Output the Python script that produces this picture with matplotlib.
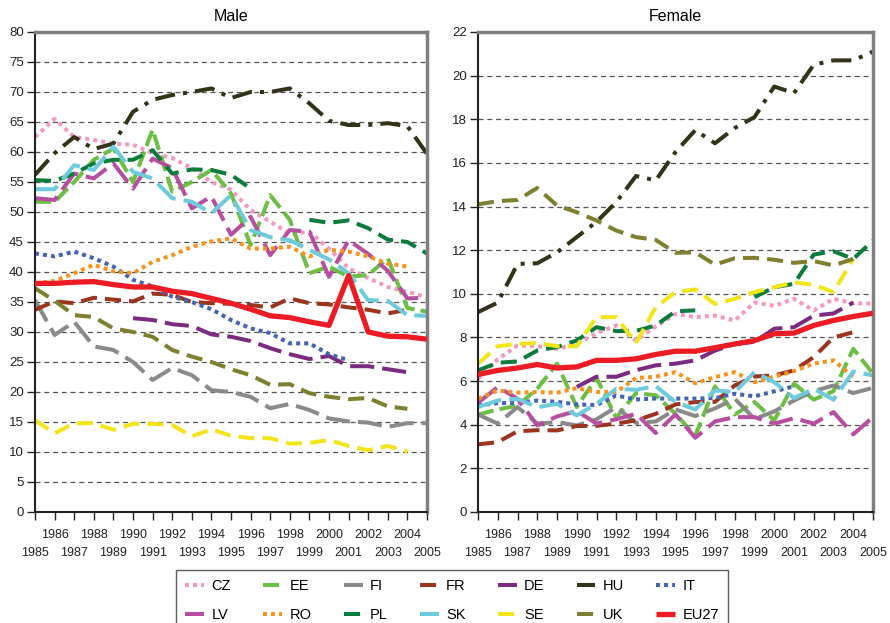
#Import Libraries
import matplotlib
matplotlib.use("Agg")
import matplotlib.pyplot as plt
import numpy as np

nan = np.nan

#Years on the x axis
years = list(range(1985, 2006))
countries = ["CZ", "EE", "FI", "FR", "DE", "HU", "IT", "LV", "RO", "PL", "SK", "SE", "UK", "EU27"]

#Male values
CZ_m = [62.5, 65.5, 62.5, 62.0, 61.4, 61.2, 59.8, 59.0, 57.3, 55.0, 53.7, 50.3, 48.4, 46.4, 46.7, 43.9, 40.6, 39.0, 37.5, 36.7, 35.8]
EE_m = [51.7, 51.7, 55.0, 58.7, 60.6, 55.0, 63.7, 53.4, 55.0, 57.0, 53.1, 44.5, 52.8, 48.7, 39.8, 40.9, 39.2, 39.5, 42.3, 34.0, 33.4]
FI_m = [35.3, 29.5, 31.7, 27.6, 27.0, 25.0, 22.0, 24.0, 22.8, 20.3, 20.0, 19.2, 17.3, 18.0, 17.0, 15.6, 15.1, 14.9, 14.2, 14.8, 14.8]
FR_m = [33.7, 35.1, 34.8, 35.7, 35.4, 35.1, 36.4, 36.2, 35.0, 34.8, 34.7, 34.5, 34.1, 35.6, 34.8, 34.6, 34.1, 33.7, 33.1, 33.7, nan]
DE_m = [nan, nan, nan, nan, nan, 32.3, 32.0, 31.3, 31.0, 29.6, 29.2, 28.5, 27.3, 26.3, 25.5, 26.0, 24.3, 24.3, 23.8, 23.3, nan]
HU_m = [56.2, 59.8, 62.5, 60.5, 61.4, 66.7, 68.7, 69.5, 70.0, 70.6, 69.0, 70.0, 70.0, 70.6, 68.1, 65.2, 64.5, 64.5, 64.8, 64.3, 59.7]
IT_m = [43.1, 42.6, 43.4, 42.3, 40.9, 38.7, 37.6, 35.9, 35.0, 33.8, 32.0, 30.6, 29.8, 28.1, 28.1, 26.3, 25.3, nan, nan, nan, nan]
LV_m = [52.3, 52.0, 56.4, 55.6, 58.1, 53.9, 58.9, 57.3, 50.6, 52.6, 46.2, 49.2, 42.8, 47.0, 46.7, 39.2, 45.3, 43.0, 40.2, 35.6, 35.7]
RO_m = [38.1, 38.5, 39.8, 41.2, 40.1, 39.8, 41.7, 42.8, 44.2, 45.1, 45.6, 43.9, 43.9, 44.2, 42.6, 43.7, 43.4, 42.6, 41.4, 40.9, nan]
PL_m = [55.3, 55.2, 56.4, 58.1, 58.7, 58.7, 60.3, 56.4, 57.1, 57.0, 56.2, 53.9, nan, nan, 48.7, 48.2, 48.6, 47.3, 45.4, 45.0, 43.1]
SK_m = [53.8, 53.8, 57.8, 57.0, 60.9, 56.7, 55.6, 52.3, 51.7, 49.8, 52.8, 47.0, 45.8, 45.3, 43.7, 42.1, 39.8, 35.3, 35.2, 32.8, 32.7]
SE_m = [15.3, 13.1, 14.8, 14.8, 13.7, 14.7, 14.7, 14.5, 12.6, 13.8, 12.7, 12.3, 12.3, 11.4, 11.5, 12.0, 11.0, 10.3, 11.0, 10.1, nan]
UK_m = [37.3, 35.2, 32.8, 32.5, 30.6, 30.0, 29.2, 27.0, 25.9, 25.0, 23.8, 22.8, 21.2, 21.3, 19.8, 19.2, 18.8, 19.0, 17.6, 17.2, nan]
EU_m = [38.1, 38.1, 38.3, 38.4, 37.9, 37.5, 37.5, 36.8, 36.4, 35.6, 34.8, 33.8, 32.7, 32.4, 31.7, 31.1, 39.4, 30.0, 29.3, 29.2, 28.8]

#Female values
CZ_f = [6.1, 7.0, 7.63, 7.6, 7.48, 7.7, 8.2, 8.55, 7.86, 8.5, 9.08, 8.93, 9.0, 8.78, 9.6, 9.45, 9.77, 9.24, 9.77, 9.57, 9.55]
EE_f = [4.46, 4.7, 4.87, 5.65, 6.8, 4.81, 6.15, 4.32, 5.45, 5.35, 4.5, 3.5, 5.76, 4.47, 5.04, 4.2, 5.88, 5.15, 5.54, 7.48, 6.34]
FI_f = [4.47, 4.05, 4.81, 4.05, 4.12, 3.97, 4.25, 4.81, 4.08, 4.15, 4.7, 4.4, 4.75, 5.19, 4.27, 4.61, 5.11, 5.54, 5.8, 5.45, 5.69]
FR_f = [3.1, 3.2, 3.7, 3.75, 3.74, 3.94, 3.95, 4.05, 4.2, 4.5, 4.93, 5.04, 5.05, 5.8, 6.21, 6.26, 6.49, 7.1, 8.0, 8.24, nan]
DE_f = [nan, nan, nan, nan, nan, 5.73, 6.2, 6.2, 6.5, 6.72, 6.8, 6.95, 7.4, 7.7, 7.8, 8.4, 8.47, 9.0, 9.1, 9.6, nan]
HU_f = [9.16, 9.6, 11.37, 11.4, 11.9, 12.6, 13.3, 14.2, 15.4, 15.2, 16.5, 17.5, 16.9, 17.6, 18.1, 19.5, 19.2, 20.5, 20.7, 20.7, 21.1]
IT_f = [4.89, 4.99, 5.0, 5.11, 5.05, 4.93, 4.9, 5.34, 5.16, 5.2, 5.2, 5.2, 5.22, 5.42, 5.3, 5.53, 5.76, nan, nan, nan, nan]
LV_f = [5.0, 5.73, 5.19, 3.97, 4.38, 4.63, 4.05, 4.25, 4.5, 3.62, 4.47, 3.4, 4.15, 4.35, 4.35, 4.05, 4.3, 4.05, 4.58, 3.56, 4.35]
RO_f = [5.19, 5.57, 5.47, 5.5, 5.47, 5.68, 5.5, 5.5, 6.14, 6.2, 6.41, 5.9, 6.18, 6.41, 5.95, 6.2, 6.46, 6.8, 6.95, 6.2, nan]
PL_f = [6.49, 6.84, 6.9, 7.4, 7.56, 7.86, 8.47, 8.29, 8.3, 8.55, 9.2, 9.24, nan, nan, 9.85, 10.3, 10.46, 11.8, 11.95, 11.6, 12.44]
SK_f = [4.81, 5.11, 5.19, 4.8, 4.96, 4.43, 4.96, 5.65, 5.6, 5.77, 5.04, 4.7, 5.57, 5.5, 6.41, 5.95, 5.22, 5.65, 5.15, 6.44, 6.26]
SE_f = [6.8, 7.6, 7.7, 7.75, 7.6, 7.6, 8.93, 8.93, 7.74, 9.39, 10.08, 10.2, 9.54, 9.77, 10.08, 10.3, 10.53, 10.41, 10.08, 11.6, nan]
UK_f = [14.1, 14.25, 14.3, 14.85, 14.05, 13.74, 13.36, 12.9, 12.6, 12.47, 11.88, 11.9, 11.34, 11.63, 11.65, 11.56, 11.42, 11.5, 11.3, 11.6, nan]
EU_f = [6.3, 6.49, 6.6, 6.76, 6.6, 6.65, 6.95, 6.95, 7.02, 7.22, 7.37, 7.37, 7.53, 7.7, 7.86, 8.17, 8.2, 8.55, 8.78, 8.96, 9.11]

male = [CZ_m, EE_m, FI_m, FR_m, DE_m, HU_m, IT_m, LV_m, RO_m, PL_m, SK_m, SE_m, UK_m, EU_m]
female = [CZ_f, EE_f, FI_f, FR_f, DE_f, HU_f, IT_f, LV_f, RO_f, PL_f, SK_f, SE_f, UK_f, EU_f]

#Line styles
colors = ["#F49AC1", "#6DBE45", "#8A8A8A", "#9B3520", "#7B2C80", "#33331A", "#4466B0",
          "#B64FA0", "#F7941D", "#0C7C3C", "#6ECBDC", "#F2E51A", "#7F7F30", "#ED1C24"]
dashes = [(1, 1), (4, 1.5), (6, 2), (4, 2), (6, 2), (5, 2, 1, 2), (1, 1),
          (6, 2), (1, 1), (4, 2), (6, 2), (4, 2), (4, 2), None]

plt.rcParams['font.family'] = ['Liberation Sans', 'DejaVu Sans']

fig = plt.figure(figsize=(8.9, 6.23), dpi=100)
ax_m = fig.add_axes([35/890, 1-512/623, 392/890, 480/623])
ax_f = fig.add_axes([478/890, 1-512/623, 395/890, 480/623])

def draw_panel(ax, data, ymax, ystep, title):
    handles = []
    for i, vals in enumerate(data):
        if dashes[i] is None:
            h, = ax.plot(years, vals, color=colors[i], lw=3.8, solid_capstyle='butt', zorder=5, label=countries[i])
        else:
            h, = ax.plot(years, vals, color=colors[i], lw=2.9, dashes=dashes[i], dash_capstyle='butt', label=countries[i])
        handles.append(h)
    ax.set_xlim(1985, 2005)
    ax.set_ylim(0, ymax)
    ax.set_yticks(np.arange(0, ymax + 0.1, ystep))
    #even years on the upper row, odd years on the lower row
    even = [y for y in years if y % 2 == 0]
    odd = [y for y in years if y % 2 == 1]
    ax.set_xticks(even)
    ax.set_xticklabels([str(y) for y in even])
    ax.set_xticks(odd, minor=True)
    ax.set_xticklabels([str(y) for y in odd], minor=True)
    for y in np.arange(ystep, ymax, ystep):
        ax.axhline(y, color="#555555", lw=0.9, dashes=(4, 3), zorder=0)
    ax.tick_params(axis='y', direction='out', length=6, width=1, labelsize=9.5, colors='#222222', pad=2)
    ax.tick_params(axis='x', which='major', direction='out', length=6, width=1, labelsize=9, colors='#222222', pad=6)
    ax.tick_params(axis='x', which='minor', direction='out', length=6, width=1, labelsize=9, colors='#222222', pad=19)
    for s in ['top', 'right']:
        ax.spines[s].set_color('#808080')
        ax.spines[s].set_linewidth(2.5)
    for s in ['left', 'bottom']:
        ax.spines[s].set_color('#222222')
        ax.spines[s].set_linewidth(1.5)
    ax.set_title(title, fontsize=11.5, pad=8)
    return handles

handles = draw_panel(ax_m, male, 80, 5, "Male")
draw_panel(ax_f, female, 22, 2, "Female")

#Legend, reorder so the rows read across
order = []
for c in range(7):
    order += [c, c + 7]
leg = fig.legend([handles[i] for i in order], [countries[i] for i in order],
                 loc='upper left', bbox_to_anchor=(176/890, 1-570/623), ncol=7,
                 fontsize=10.5, frameon=True, fancybox=False, edgecolor='#333333',
                 handlelength=1.3, handletextpad=0.5, columnspacing=2.2,
                 borderpad=0.65, labelspacing=1.0, borderaxespad=0)
leg.get_frame().set_linewidth(1)

fig.savefig("out.png", dpi=100)
